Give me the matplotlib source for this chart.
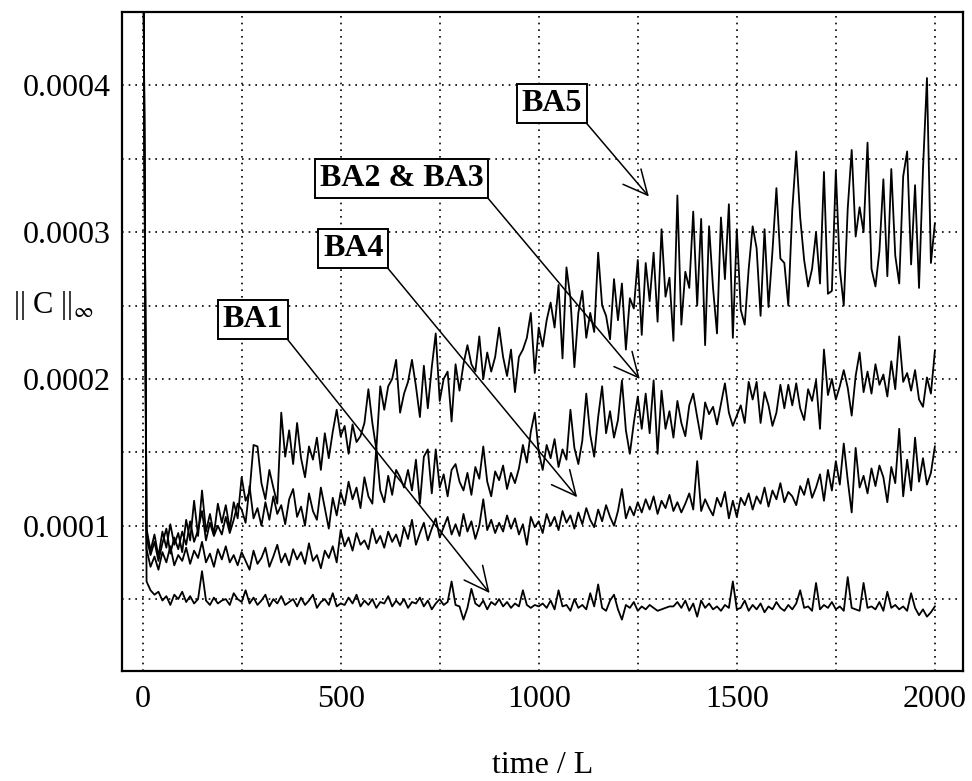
import numpy as np
import matplotlib
matplotlib.use("Agg")
from matplotlib import pyplot as plt
from matplotlib.ticker import MultipleLocator, FixedLocator

plt.rcParams['font.family'] = 'serif'
plt.rcParams['font.serif'] = ['Liberation Serif', 'DejaVu Serif']
plt.rcParams['mathtext.fontset'] = 'stix'

# values in units of 1e-5, sampled every 10 time units (t = 0 .. 2000)
SCALE = 1e-5
STEP = 10

ba1 = [60,
       6.2, 5.6, 5.3, 5.5, 4.9, 5.2, 4.6, 5.3, 5.0, 5.5,
       4.8, 5.2, 4.7, 5.0, 6.9, 4.9, 4.6, 5.1, 4.7, 4.9,
       5.0, 4.6, 5.4, 5.0, 4.8, 5.6, 4.7, 5.1, 4.6, 4.9,
       5.3, 4.5, 5.0, 4.7, 5.2, 4.6, 4.8, 5.0, 4.5, 5.1,
       4.6, 4.9, 5.3, 4.4, 4.8, 5.0, 4.6, 5.4, 4.5, 4.7,
       4.6, 5.1, 4.7, 5.3, 4.5, 4.9, 4.6, 5.0, 4.4, 4.8,
       4.7, 5.2, 4.5, 4.9, 4.6, 5.0, 4.4, 4.8, 4.7, 5.1,
       4.5, 4.9, 4.3, 4.7, 5.0, 4.6, 4.8, 6.2, 4.6, 4.5,
       3.6, 4.4, 5.7, 4.7, 4.5, 4.9, 4.3, 4.8, 4.6, 5.0,
       4.5, 4.8, 4.4, 4.7, 4.5, 5.6, 4.6, 4.4, 4.6, 4.5,
       4.7, 4.4, 4.9, 4.3, 5.6, 4.5, 4.6, 4.2, 5.0, 4.4,
       4.6, 4.3, 5.4, 4.5, 6.0, 4.4, 4.2, 4.9, 5.3, 4.3,
       3.6, 4.6, 4.4, 4.8, 4.2, 4.5, 4.3, 4.6, 4.4, 4.2,
       4.3, 4.4, 4.5, 4.5, 4.8, 4.4, 4.9, 4.2, 4.7, 3.8,
       4.9, 4.4, 4.7, 4.3, 4.5, 4.2, 4.6, 4.4, 6.2, 4.3,
       4.4, 4.9, 4.2, 4.6, 4.3, 4.7, 4.1, 4.5, 4.3, 4.8,
       4.4, 4.2, 4.6, 4.3, 4.7, 5.6, 4.4, 4.5, 4.2, 6.1,
       4.3, 4.6, 4.4, 4.8, 4.3, 4.5, 4.2, 6.5, 4.4, 4.3,
       4.2, 6.1, 4.4, 4.5, 4.3, 4.8, 4.2, 5.5, 4.4, 4.6,
       4.3, 4.5, 4.2, 5.4, 4.4, 3.9, 4.3, 3.8, 4.1, 4.5]

ba4 = [60,
       8.4, 7.2, 7.9, 7.0, 8.2, 7.5, 8.6, 7.3, 8.0, 7.6,
       8.5, 7.4, 8.3, 7.8, 8.9, 7.5, 8.1, 7.2, 8.4, 7.7,
       8.6, 7.5, 8.0, 7.3, 8.2, 7.6, 7.0, 8.3, 7.4, 7.8,
       8.5, 7.2, 7.9, 8.7, 7.5, 8.1, 7.3, 8.4, 7.7, 8.2,
       7.4, 8.8, 7.6, 8.0, 7.1, 8.3, 7.8, 8.6, 7.5, 9.7,
       8.6, 9.2, 8.3, 9.5, 8.7, 9.0, 8.4, 9.8, 8.8, 9.3,
       8.5, 9.6, 8.9, 9.4, 8.6, 9.9, 9.1, 10.4, 8.7, 9.5,
       10.2, 9.0, 9.8, 10.5, 9.2, 9.9, 10.6, 9.4, 10.1, 9.3,
       10.8, 9.6, 10.3, 9.1, 10.0, 11.8, 9.7, 10.4, 9.5, 10.2,
       9.6, 10.7, 9.8, 10.5, 9.4, 10.1, 8.7, 10.6, 9.9, 10.3,
       9.5, 10.8, 10.0, 10.6, 9.7, 11.0, 10.2, 10.7, 9.8, 10.9,
       10.1, 11.2, 10.4, 9.9, 11.1, 10.3, 11.4, 10.6, 10.0, 11.0,
       12.5, 10.5, 11.3, 10.7, 11.6, 10.9, 11.8, 11.1, 12.0, 10.8,
       11.7, 11.2, 12.1, 11.0, 11.6, 10.9, 11.5, 12.2, 11.1, 14.4,
       11.0, 11.8, 11.2, 10.7, 11.9, 11.3, 12.3, 10.5, 11.7, 10.6,
       11.9, 11.4, 12.2, 11.1, 12.0, 11.5, 12.6, 11.3, 12.4, 11.8,
       12.9, 11.6, 12.3, 12.0, 11.4, 12.7, 12.1, 13.2, 11.9, 12.6,
       13.5, 11.7, 13.8, 12.4, 14.4, 12.8, 15.6, 13.1, 10.9, 15.3,
       12.6, 13.4, 12.2, 13.9, 12.7, 14.1, 13.3, 11.6, 14.0, 12.9,
       16.6, 12.0, 14.5, 12.4, 16.0, 13.0, 14.6, 12.8, 13.6, 15.4]

ba23 = [60,
        9.2, 8.0, 8.9, 7.6, 8.8, 9.8, 8.1, 9.2, 8.4, 9.6,
        8.7, 10.3, 8.9, 9.7, 11.0, 9.0, 10.2, 9.3, 10.0, 9.4,
        10.6, 9.5, 10.4, 11.5, 11.1, 10.2, 12.7, 10.5, 11.2, 10.0,
        11.6, 10.4, 12.0, 10.8, 11.4, 10.1, 11.8, 12.5, 10.6, 11.3,
        10.0, 12.2, 11.0, 10.4, 12.6, 11.2, 9.8, 11.9, 10.7, 12.3,
        11.4, 13.0, 11.8, 12.6, 11.2, 13.3, 12.0, 11.5, 15.3, 12.4,
        11.6, 13.4, 12.1, 13.8, 13.3, 12.6, 13.8, 12.4, 14.5, 11.5,
        14.7, 15.2, 12.2, 15.2, 12.6, 13.5, 12.0, 13.8, 14.2, 13.0,
        12.4, 13.6, 12.1, 14.0, 13.2, 15.4, 13.0, 12.0, 13.7, 13.1,
        14.1, 12.5, 13.6, 12.9, 13.9, 15.5, 14.3, 16.4, 17.7, 15.0,
        13.8, 15.5, 14.6, 15.9, 14.0, 15.2, 14.5, 17.9, 15.3, 14.2,
        15.8, 19.0, 16.2, 14.7, 17.4, 19.5, 16.3, 17.8, 16.0, 17.2,
        19.9, 16.5, 14.9, 17.0, 18.8, 16.6, 19.0, 16.3, 19.9, 14.9,
        19.2, 16.6, 17.8, 16.0, 18.5, 17.0, 16.1, 18.2, 19.0, 17.4,
        15.9, 18.4, 17.6, 18.1, 16.9, 18.3, 19.7, 17.7, 16.8, 17.5,
        18.2, 17.0, 19.8, 18.6, 19.8, 17.0, 19.1, 18.2, 16.8, 17.7,
        19.6, 18.0, 19.6, 18.2, 19.7, 18.0, 17.2, 19.3, 18.5, 19.9,
        16.6, 22.0, 18.9, 20.0, 18.6, 19.5, 20.6, 19.4, 17.5, 20.2,
        21.8, 19.1, 20.5, 19.0, 21.0, 19.6, 20.3, 18.8, 21.2, 19.3,
        22.9, 19.8, 20.4, 19.2, 20.6, 18.6, 18.1, 20.1, 19.0, 21.9]

ba5 = [60,
       9.8, 8.3, 9.4, 7.9, 9.6, 8.5, 10.1, 8.7, 9.5, 8.2,
       10.4, 9.0, 11.7, 9.3, 12.4, 9.6, 10.8, 9.4, 11.5, 10.2,
       11.4, 9.8, 11.6, 10.5, 13.3, 11.7, 12.3, 15.5, 15.4, 12.9,
       11.8, 13.8, 12.6, 11.5, 17.7, 14.7, 16.5, 14.2, 17.0, 14.6,
       13.3, 15.4, 14.5, 16.0, 13.8, 16.3, 14.6, 16.4, 17.9, 16.1,
       16.8, 14.9, 16.9, 15.7, 16.1, 17.0, 19.3, 17.0, 15.2, 19.5,
       17.9, 19.5, 20.0, 21.3, 17.7, 19.0, 19.8, 21.3, 19.5, 17.4,
       20.9, 18.0, 20.8, 23.1, 18.5, 20.0, 20.5, 17.1, 21.0, 19.2,
       21.0, 22.3, 21.0, 20.5, 22.9, 20.0, 21.8, 20.5, 21.5, 23.5,
       21.5, 20.2, 22.0, 19.1, 21.5, 22.0, 22.8, 24.5, 20.4, 23.5,
       22.2, 24.0, 25.2, 23.5, 26.4, 21.4, 27.6, 25.5, 20.8, 24.5,
       26.0, 22.8, 24.5, 23.2, 28.6, 25.0, 24.3, 22.7, 26.8, 24.0,
       26.5, 22.0, 25.5, 24.8, 28.1, 23.0, 27.9, 25.3, 28.6, 23.9,
       30.2, 25.6, 26.9, 22.6, 32.5, 23.7, 27.3, 26.2, 31.4, 25.0,
       30.9, 22.3, 30.4, 26.2, 23.1, 31.0, 26.8, 31.9, 22.8, 30.2,
       24.7, 23.7, 27.5, 30.4, 28.9, 24.3, 30.2, 24.9, 28.7, 33.0,
       28.2, 27.9, 25.0, 31.5, 35.5, 31.0, 28.1, 26.3, 27.5, 30.0,
       26.5, 34.1, 25.8, 26.0, 34.2, 27.5, 25.0, 31.6, 35.6, 29.7,
       31.7, 30.0, 36.1, 27.5, 26.3, 28.7, 33.6, 27.0, 34.3, 28.4,
       26.5, 33.8, 35.5, 27.8, 33.2, 26.2, 34.3, 40.5, 27.9, 30.6]

# label text, centre of the box, arrow tip (data coords)
labels = ['BA5', 'BA2 & BA3', 'BA4', 'BA1']
label_pos = [(1033, 38.77), (654, 33.66), (532, 28.88), (279, 24.04)]
arrow_tip = [(1278, 32.43), (1255, 20.0), (1097, 11.94), (876, 5.41)]

fig = plt.figure(figsize=(9.72, 7.81), dpi=100)
ax = fig.add_axes([122 / 972, 1 - 671 / 781, (963 - 122) / 972, (671 - 12) / 781])

for series in (ba1, ba4, ba23, ba5):
    v = np.array(series) * SCALE
    t = np.arange(len(v)) * STEP
    ax.plot(t, v, color='black', lw=1.3)

ax.set_xlim(-52, 2071)
ax.set_ylim(0.000001, 0.00045)

ax.xaxis.set_major_locator(MultipleLocator(500))
ax.xaxis.set_minor_locator(MultipleLocator(250))
ax.yaxis.set_major_locator(FixedLocator([1e-4, 2e-4, 3e-4, 4e-4]))
ax.yaxis.set_minor_locator(FixedLocator([5e-5 * k for k in range(1, 10)]))
ax.set_yticklabels(['0.0001', '0.0002', '0.0003', '0.0004'])
ax.tick_params(which='both', length=0, labelsize=23)
ax.tick_params(axis='y', pad=8)
ax.tick_params(axis='x', pad=10)
ax.grid(which='both', color='black', linestyle=(0, (1, 3)), lw=1.2)
ax.set_axisbelow(True)
for sp in ax.spines.values():
    sp.set_linewidth(1.6)

for text, (tx, ty), (px, py) in zip(labels, label_pos, arrow_tip):
    ax.annotate(text, xy=(px, py * SCALE), xytext=(tx, ty * SCALE),
                ha='center', va='center', fontsize=23, fontweight='bold',
                bbox=dict(boxstyle='square,pad=0.15', fc='white', ec='black', lw=1.4),
                arrowprops=dict(arrowstyle='->,head_length=1.75,head_width=0.85',
                                color='black', lw=1.1, relpos=(1, 0),
                                shrinkA=0, shrinkB=0, mutation_scale=10))

fig.text(13 / 972, (781 - 313) / 781, r'|| C ||$_\infty$', fontsize=22,
         ha='left', va='baseline')
fig.text(543 / 972, (781 - 773) / 781, 'time / L', fontsize=23,
         ha='center', va='baseline')

fig.savefig('out.png', dpi=100)
